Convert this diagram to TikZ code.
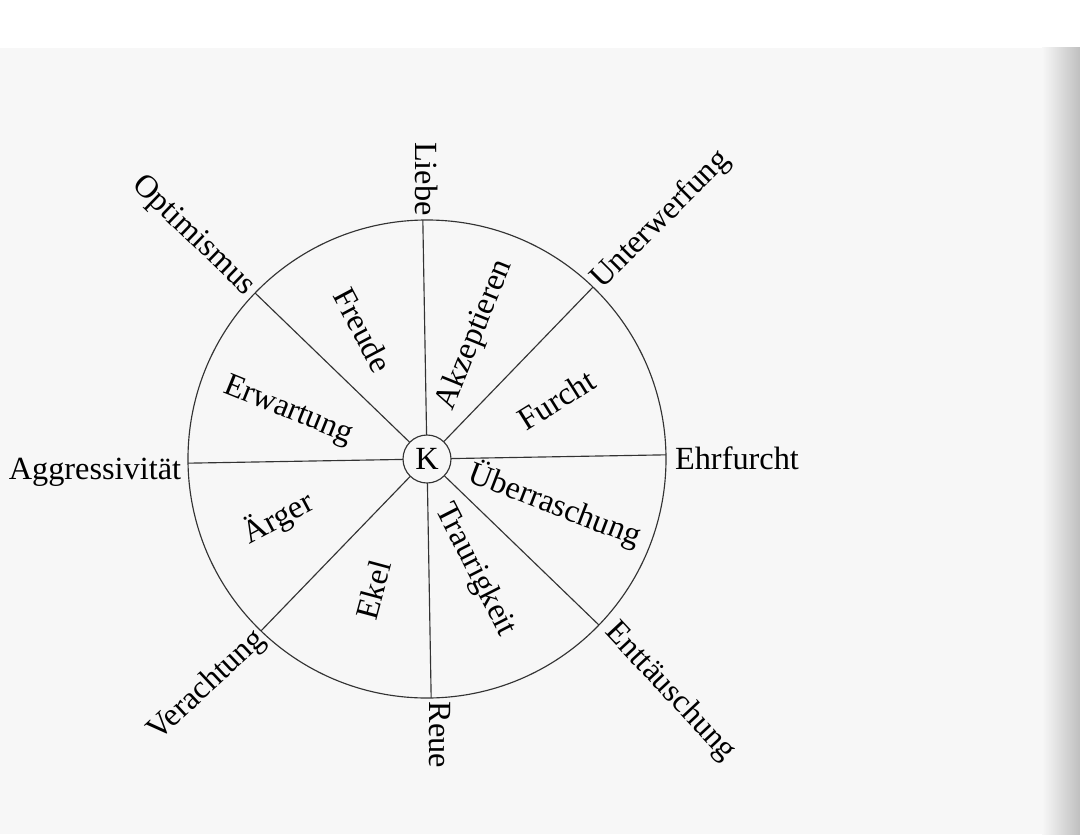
\documentclass[tikz,border=0pt]{standalone}
\usepackage{fontspec}
\setmainfont{Liberation Serif}
\usetikzlibrary{calc}

\begin{document}
\begin{tikzpicture}[font=\fontsize{18.4}{22}\selectfont]
		\tikzset{rim/.style={draw=black!80, line width=0.65pt, circle, inner sep=0pt, outer sep=0pt},
			lbl/.style={inner sep=1pt, text=black}}
		% page of the scan
		\fill[white] (-8.54,-7.5) rectangle (13.06,9.18);
		\fill[black!3] (-8.54,-7.5) rectangle (13.06,8.22);
		\shade[left color=black!3, right color=black!25] (12.3,-7.5) rectangle (13.06,8.22);
		\useasboundingbox (-8.54,-7.5) rectangle (13.06,9.18);
		% wheel
		\node[rim, minimum size=9.56cm] (wheel) at (0,0) {};
		\node[rim, minimum size=0.96cm] (K) at (0,0) {K};
		\foreach \a in {1,46,91,136,181,226,271,316}
			\draw[black!80, line width=0.65pt] (K.\a) -- (wheel.\a);
		% outer ring
		\node[lbl, rotate=-90] (liebe) at (0,5.6) {Liebe};
		\node[lbl, rotate=45] (unterwerfung) at (4.68,4.78) {Unterwerfung};
		\node[lbl] (ehrfurcht) at (6.2,0.02) {Ehrfurcht};
		\node[lbl, rotate=-47] (enttaeuschung) at (4.86,-4.66) {Enttäuschung};
		\node[lbl, rotate=-90] (reue) at (0.26,-5.52) {Reue};
		\node[lbl, rotate=43] (verachtung) at (-4.4,-4.54) {Verachtung};
		\node[lbl] (aggressivitaet) at (-6.64,-0.26) {Aggressivität};
		\node[lbl, rotate=-44] (optimismus) at (-4.68,4.46) {Optimismus};
		% inner ring
		\node[lbl, rotate=68] (akzeptieren) at (0.96,2.48) {Akzeptieren};
		\node[lbl, rotate=32] (furcht) at (2.58,1.18) {Furcht};
		\node[lbl, rotate=-21] (ueberraschung) at (2.56,-0.92) {Überraschung};
		\node[lbl, rotate=-63] (traurigkeit) at (0.96,-2.22) {Traurigkeit};
		\node[lbl, rotate=75] (ekel) at (-1.08,-2.62) {Ekel};
		\node[lbl, rotate=28] (aerger) at (-2.98,-1.18) {Ärger};
		\node[lbl, rotate=-22] (erwartung) at (-2.78,0.96) {Erwartung};
		\node[lbl, rotate=-62] (freude) at (-1.28,2.58) {Freude};
	\end{tikzpicture}
\end{document}
